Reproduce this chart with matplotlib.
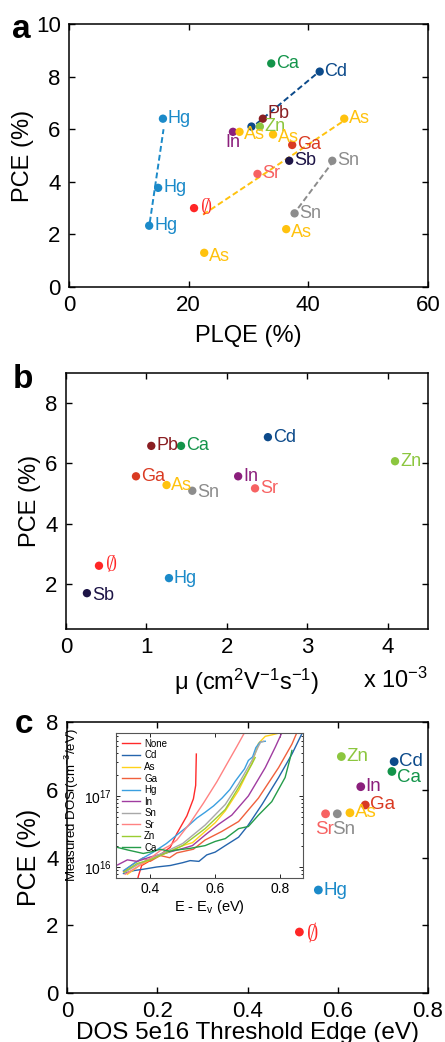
import matplotlib
matplotlib.use('Agg')
import matplotlib.pyplot as plt
import numpy as np

plt.rcParams['font.family'] = ['Liberation Sans', 'DejaVu Sans']
plt.rcParams['mathtext.fontset'] = 'custom'
plt.rcParams['mathtext.rm'] = 'Liberation Sans'
plt.rcParams['mathtext.it'] = 'Liberation Sans:italic'
plt.rcParams['mathtext.bf'] = 'Liberation Sans:bold'

# ---------------- data ----------------
EMPTY = '\u2205'
colors = {
    'Ca': '#13944a', 'Cd': '#0c4a8a', 'Pb': '#8a1e22', 'Zn': '#8cc63f',
    'In': '#8b1f7c', 'As': '#ffc20e', 'Ga': '#d93a22', 'Sb': '#1d1446',
    'Sn': '#8c8c8c', 'Sr': '#f76262', EMPTY: '#ff2626', 'Hg': '#1b8ac9',
}

# panel a: PLQE vs PCE
a_labels = ['Ca', 'Cd', 'Cd', 'Pb', 'Zn', 'In', 'As', 'As', 'Ga', 'Sb', 'Sn',
            'Sr', EMPTY, 'Sn', 'As', 'As', 'As', 'Hg', 'Hg', 'Hg']
a_show = [True, True, False, True, True, True, True, True, True, True, True,
          True, True, True, True, True, True, True, True, True]
a_plqe = [33.8, 41.9, 30.5, 32.4, 31.9, 27.4, 28.5, 34.1, 37.3, 36.8, 44.0,
          31.5, 20.9, 37.7, 36.3, 22.6, 46.0, 15.7, 14.9, 13.4]
a_pce = [8.5, 8.19, 6.1, 6.4, 6.1, 5.9, 5.9, 5.8, 5.4, 4.8, 4.8,
         4.3, 3.0, 2.8, 2.2, 1.3, 6.4, 6.4, 3.77, 2.33]

# dashed trend lines (panel a)
fit_names = ['Hg', 'Cd', 'As', 'Sn']
fit_plqe = [[13.5, 15.8], [31.3, 41.6], [22.4, 45.8], [38.3, 43.9]]
fit_pce = [[2.45, 6.0], [6.2, 8.15], [2.75, 6.3], [3.0, 4.7]]

# panel b: mobility (x 1e-3) vs PCE
b_labels = ['Cd', 'Pb', 'Ca', 'Zn', 'Ga', 'In', 'As', 'Sr', 'Sn', EMPTY, 'Hg', 'Sb']
b_mu = [2.51, 1.06, 1.43, 4.09, 0.87, 2.14, 1.25, 2.35, 1.57, 0.41, 1.28, 0.26]
b_pce = [6.87, 6.58, 6.58, 6.07, 5.57, 5.57, 5.28, 5.17, 5.09, 2.60, 2.19, 1.69]

# panel c: DOS threshold edge vs PCE
c_labels = ['Zn', 'Cd', 'Ca', 'In', 'Ga', 'As', 'Sn', 'Sr', 'Hg', EMPTY]
c_edge = [0.608, 0.725, 0.720, 0.651, 0.661, 0.627, 0.599, 0.573, 0.557, 0.515]
c_pce = [6.98, 6.83, 6.54, 6.09, 5.55, 5.32, 5.29, 5.29, 3.04, 1.80]

# inset: measured DOS (units of 1e16 cm^-3/eV) vs E - Ev (eV)
inset_names = ['None', 'Cd', 'As', 'Ga', 'Hg', 'In', 'Sn', 'Sr', 'Zn', 'Ca']
inset_colors = ['#ff2a2a', '#2565ad', '#ffd21a', '#f0603c', '#3a9fe0',
                '#a03ca0', '#a8a8a8', '#ff8282', '#9acd32', '#259c4a']
E_none = [0.355, 0.364, 0.374, 0.40, 0.43, 0.462, 0.482, 0.513, 0.533, 0.540, 0.542]
D_none = [0.50, 0.75, 1.05, 1.23, 1.48, 1.90, 2.95, 5.25, 9.12, 14.1, 38.9]
E_cd = [0.318, 0.35, 0.379, 0.42, 0.462, 0.50, 0.523, 0.55, 0.574, 0.60, 0.631,
        0.672, 0.70, 0.744, 0.795, 0.836, 0.867]
D_cd = [0.81, 0.89, 0.93, 1.0, 1.05, 1.15, 1.23, 1.20, 1.48, 1.62, 2.0,
        2.63, 3.8, 7.59, 18.2, 38.9, 75.9]
E_as = [0.33, 0.37, 0.40, 0.45, 0.50, 0.53, 0.569, 0.60, 0.631, 0.672, 0.713,
        0.733, 0.754, 0.774, 0.80]
D_as = [0.79, 1.07, 1.26, 1.58, 2.0, 2.2, 3.16, 4.2, 6.17, 12.0, 28.8,
        55.0, 69.2, 72.4, 77.6]
E_ga = [0.318, 0.35, 0.379, 0.40, 0.431, 0.46, 0.482, 0.533, 0.569, 0.62,
        0.672, 0.733, 0.795, 0.836, 0.851]
D_ga = [0.87, 1.12, 1.35, 1.20, 1.45, 1.35, 1.58, 1.78, 2.4, 3.16,
        4.37, 9.33, 25.1, 53.7, 77.6]
E_hg = [0.318, 0.36, 0.41, 0.45, 0.482, 0.515, 0.544, 0.569, 0.595, 0.621,
        0.645, 0.662, 0.68, 0.69, 0.702, 0.715, 0.725, 0.738, 0.754]
D_hg = [0.89, 1.2, 1.62, 2.14, 2.82, 3.72, 4.9, 5.89, 7.24, 9.33,
        12.3, 16.2, 20.9, 24.0, 31.6, 35.5, 47.9, 57.5, 58.9]
E_in = [0.300, 0.33, 0.36, 0.40, 0.45, 0.50, 0.53, 0.569, 0.61, 0.651,
        0.702, 0.754, 0.785, 0.805]
D_in = [1.07, 1.26, 1.20, 1.38, 1.58, 1.82, 2.0, 2.82, 3.98, 5.37,
        10.0, 25.1, 49.0, 77.6]
E_sn = [0.32, 0.36, 0.40, 0.45, 0.50, 0.569, 0.631, 0.672, 0.713, 0.733, 0.74, 0.749]
D_sn = [0.83, 1.07, 1.32, 1.66, 2.14, 3.89, 7.59, 14.8, 31.6, 50.1, 57.5, 58.9]
E_sr = [0.323, 0.36, 0.40, 0.431, 0.46, 0.482, 0.523, 0.564, 0.605, 0.636, 0.667, 0.69]
D_sr = [0.79, 1.0, 1.32, 1.70, 2.0, 2.4, 4.17, 7.94, 15.8, 28.2, 50.1, 77.6]
E_zn = [0.32, 0.36, 0.40, 0.45, 0.50, 0.569, 0.631, 0.672, 0.713, 0.723]
D_zn = [0.85, 1.12, 1.26, 1.58, 2.0, 3.47, 6.46, 13.2, 28.2, 34.7]
E_ca = [0.295, 0.33, 0.379, 0.41, 0.431, 0.46, 0.482, 0.52, 0.569, 0.60,
        0.631, 0.672, 0.702, 0.733, 0.774, 0.815, 0.831, 0.836]
D_ca = [1.91, 1.74, 1.55, 1.66, 1.78, 1.66, 1.74, 1.82, 2.0, 2.29,
        2.51, 3.47, 3.72, 5.37, 8.32, 18.2, 34.7, 43.7]
inset_E = [E_none, E_cd, E_as, E_ga, E_hg, E_in, E_sn, E_sr, E_zn, E_ca]
inset_D = [D_none, D_cd, D_as, D_ga, D_hg, D_in, D_sn, D_sr, D_zn, D_ca]

# ---------------- styling / layout ----------------
W, H = 445, 1042
fig = plt.figure(figsize=(W / 100, H / 100), dpi=100)

TICK = 16
LAB = 17
ANN = 13
MS = 36


def rect(l, r, t, b):
    return [l / W, 1 - b / H, (r - l) / W, (b - t) / H]


def style(ax):
    ax.tick_params(direction='in', top=True, right=True, labelsize=TICK,
                   length=4, width=1.0, pad=6)
    for s in ax.spines.values():
        s.set_linewidth(1.1)


def annotate(ax, x, y, name, dx=3.5, dy=0, ha='left', fs=ANN):
    c = colors[name]
    if name == EMPTY:
        ax.annotate(r'$\emptyset$', (x, y), xytext=(dx + 1, dy), textcoords='offset points',
                    ha=ha, va='center', color=c, fontsize=fs + 3, math_fontfamily='cm')
    else:
        ax.annotate(name, (x, y), xytext=(dx, dy), textcoords='offset points',
                    ha=ha, va='center', color=c, fontsize=fs)


# ---- panel a ----
ax = fig.add_axes(rect(69, 428, 24, 287))
for fx, fy, n in zip(fit_plqe, fit_pce, fit_names):
    ax.plot(fx, fy, ls=(0, (3, 1.6)), color=colors[n], lw=1.4, zorder=1)
ax.scatter(a_plqe, a_pce, s=MS, c=[colors[n] for n in a_labels], zorder=3, linewidths=0)
a_off = {5: (0, -8, 'center'), 3: (3, 4, 'left'), 6: (3.5, -2, 'left'), 7: (3.5, -2.5, 'left'),
         14: (3.5, -2.5, 'left'), 15: (3.5, -2.5, 'left')}
for i, (x, y, n) in enumerate(zip(a_plqe, a_pce, a_labels)):
    if not a_show[i]:
        continue
    dx, dy, ha = a_off.get(i, (3.5, 0, 'left'))
    annotate(ax, x, y, n, dx, dy, ha)
ax.set_xlim(0, 60)
ax.set_ylim(0, 10)
ax.set_xticks([0, 20, 40, 60])
ax.set_yticks([0, 2, 4, 6, 8, 10])
style(ax)
ax.set_xlabel('PLQE (%)', fontsize=LAB, labelpad=6)
ax.set_ylabel('PCE (%)', fontsize=LAB, labelpad=1)
fig.text(12 / W, 1 - 38 / H, 'a', fontsize=24, fontweight='bold')

# ---- panel b ----
ax = fig.add_axes(rect(66, 428, 373, 629))
ax.scatter(b_mu, b_pce, s=MS, c=[colors[n] for n in b_labels], zorder=3, linewidths=0)
for x, y, n in zip(b_mu, b_pce, b_labels):
    dy = -1.5 if n in ('Sn', 'Sb') else 0
    annotate(ax, x, y, n, 3.5, dy)
ax.set_xlim(0, 4.5)
ax.set_ylim(0.5, 9)
ax.set_xticks([0, 1, 2, 3, 4])
ax.set_yticks([2, 4, 6, 8])
style(ax)
ax.set_xlabel('\u03bc (cm$^{2}$V$^{-1}$s$^{-1}$)', fontsize=LAB, labelpad=6)
ax.set_ylabel('PCE (%)', fontsize=LAB, labelpad=3)
ax.text(1.0, -0.2, r'x 10$^{-3}$', transform=ax.transAxes, ha='right', va='center',
        fontsize=LAB)
fig.text(13 / W, 1 - 388 / H, 'b', fontsize=24, fontweight='bold')

# ---- panel c ----
ax = fig.add_axes(rect(67, 428, 722, 993))
ax.scatter(c_edge, c_pce, s=MS + 4, c=[colors[n] for n in c_labels], zorder=3, linewidths=0)
c_off = {'Ca': (3.5, -4, 'left'), 'Sr': (-1, -11, 'center'), 'Sn': (4.5, -11, 'center')}
for x, y, n in zip(c_edge, c_pce, c_labels):
    dx, dy, ha = c_off.get(n, (3.5, 0, 'left'))
    annotate(ax, x, y, n, dx, dy, ha, fs=13.5)
ax.set_xlim(0, 0.8)
ax.set_ylim(0, 8)
ax.set_xticks([0, 0.2, 0.4, 0.6, 0.8])
ax.set_xticklabels(['0', '0.2', '0.4', '0.6', '0.8'])
ax.set_yticks([0, 2, 4, 6, 8])
style(ax)
ax.set_xlabel('DOS 5e16 Threshold Edge (eV)', fontsize=LAB + 0.5, labelpad=0)
ax.set_ylabel('PCE (%)', fontsize=LAB + 1, labelpad=4)
fig.text(15 / W, 1 - 733 / H, 'c', fontsize=24, fontweight='bold')

# ---- inset ----
ins = fig.add_axes(rect(116, 303, 733, 878))
for Ex, Dy, n, c in zip(inset_E, inset_D, inset_names, inset_colors):
    ins.plot(Ex, np.array(Dy) * 1e16, color=c, lw=1.0, label=n)
ins.set_yscale('log')
ins.set_xlim(0.295, 0.87)
ins.set_ylim(7e15, 7.7e17)
ins.set_xticks([0.4, 0.6, 0.8])
ins.tick_params(which='both', direction='in', top=True, right=True, labelsize=10,
                width=0.6, pad=3)
ins.tick_params(which='major', length=3)
ins.tick_params(which='minor', length=1.5)
for s in ins.spines.values():
    s.set_linewidth(0.8)
    s.set_color('#555555')
ins.set_xlabel(r'E - E$_{\rm v}$ (eV)', fontsize=10.5, labelpad=1)
ins.set_ylabel(r'Measured DOS (cm$^{-3}$/eV)', fontsize=9.5, labelpad=2)
ins.legend(loc='upper left', fontsize=7, frameon=False, handlelength=1.9,
           handletextpad=0.4, labelspacing=0.16, borderaxespad=0.2,
           bbox_to_anchor=(0.0, 1.0))

fig.savefig('out.png', dpi=100)
